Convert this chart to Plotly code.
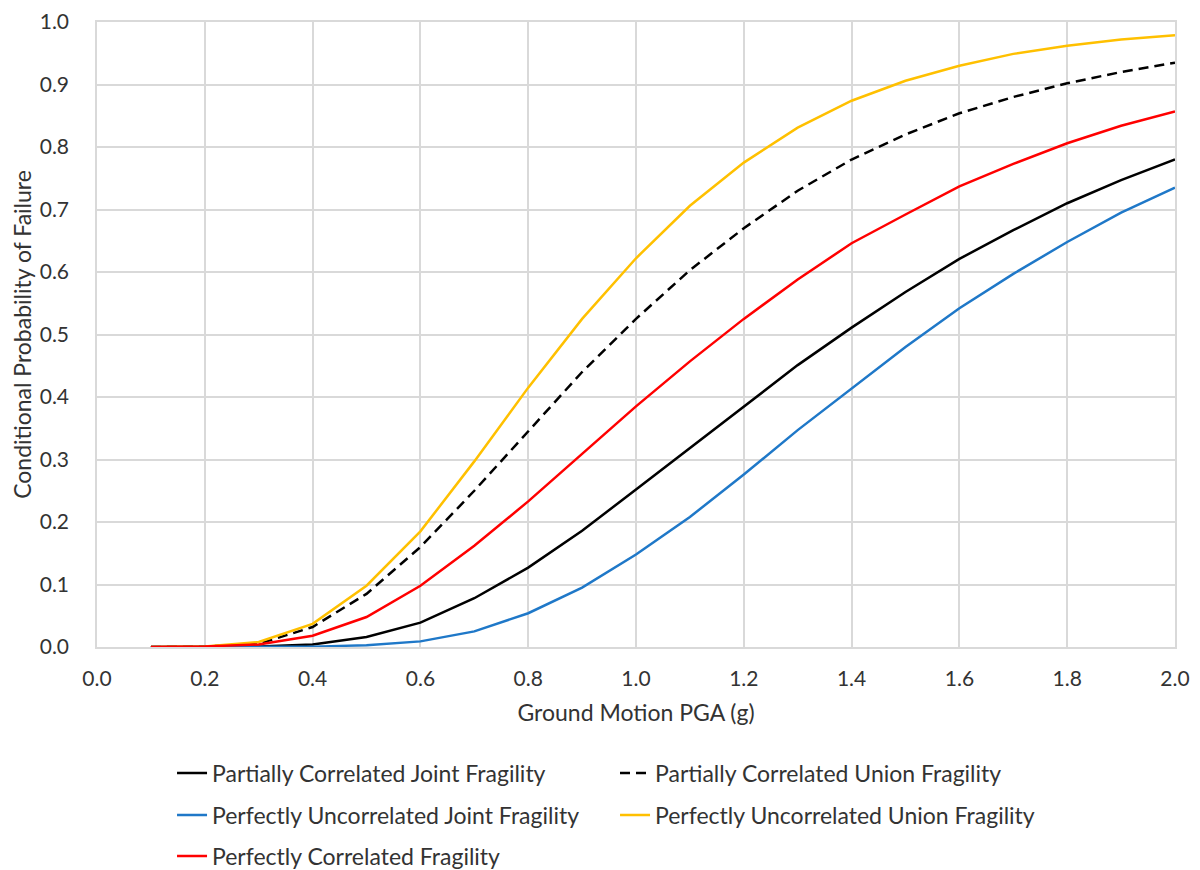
import plotly.graph_objects as go

pga = [0.1, 0.2, 0.3, 0.4, 0.5, 0.6, 0.7, 0.8, 0.9, 1.0,
       1.1, 1.2, 1.3, 1.4, 1.5, 1.6, 1.7, 1.8, 1.9, 2.0]

partial_joint = [0.0, 0.0, 0.001, 0.004, 0.016, 0.039, 0.078, 0.127, 0.186, 0.252,
                 0.318, 0.385, 0.451, 0.511, 0.568, 0.621, 0.667, 0.710, 0.747, 0.780]
partial_union = [0.0, 0.001, 0.005, 0.032, 0.085, 0.160, 0.250, 0.345, 0.440, 0.525,
                 0.603, 0.670, 0.730, 0.780, 0.820, 0.854, 0.880, 0.902, 0.920, 0.935]
uncorr_joint = [0.0, 0.0, 0.0, 0.0005, 0.003, 0.009, 0.025, 0.054, 0.095, 0.148,
                0.208, 0.276, 0.347, 0.414, 0.480, 0.542, 0.597, 0.648, 0.695, 0.735]
uncorr_union = [0.0, 0.001, 0.008, 0.037, 0.098, 0.185, 0.297, 0.415, 0.525, 0.622,
                0.706, 0.775, 0.831, 0.874, 0.906, 0.930, 0.949, 0.962, 0.972, 0.979]
perfect_corr = [0.0, 0.001, 0.004, 0.018, 0.048, 0.098, 0.162, 0.233, 0.309, 0.385,
                0.457, 0.525, 0.588, 0.646, 0.692, 0.737, 0.773, 0.806, 0.834, 0.857]

series = [
    ("Partially Correlated Joint Fragility", partial_joint, "#000000", "solid", "legend"),
    ("Partially Correlated Union Fragility", partial_union, "#000000", "10px,6px", "legend"),
    ("Perfectly Uncorrelated Joint Fragility", uncorr_joint, "#1F78C8", "solid", "legend2"),
    ("Perfectly Uncorrelated Union Fragility", uncorr_union, "#FFC000", "solid", "legend2"),
    ("Perfectly Correlated Fragility", perfect_corr, "#FF0000", "solid", "legend3"),
]

FONT = "Lato, 'Open Sans', sans-serif"
TXT = "#333333"

fig = go.Figure()
for name, vals, color, dash, lg in series:
    fig.add_trace(go.Scatter(x=pga, y=vals, mode="lines", name=name,
                             line=dict(color=color, width=2.5, dash=dash),
                             legend=lg))

leg_common = dict(orientation="h", xanchor="left", yanchor="middle",
                  x=0.0696, yref="container", entrywidth=398, entrywidthmode="pixels",
                  font=dict(family=FONT, size=23, color=TXT),
                  bgcolor="rgba(0,0,0,0)", traceorder="normal")

fig.update_layout(
    width=1200, height=870,
    margin=dict(l=89, r=33, t=14, b=231, autoexpand=False),
    paper_bgcolor="white", plot_bgcolor="white",
    font=dict(family=FONT, size=21, color=TXT),
    showlegend=True,
    legend=dict(leg_common, y=0.1207),
    legend2=dict(leg_common, y=0.0724),
    legend3=dict(leg_common, y=0.0253),
    xaxis=dict(range=[0, 2.0], dtick=0.2, tick0=0, tickformat=".1f",
               showgrid=True, gridcolor="#D9D9D9", gridwidth=1.5,
               showline=True, linecolor="#D9D9D9", linewidth=1.5, mirror=True,
               zeroline=False, ticks="", ticklabelstandoff=12,
               ticklabeloverflow="allow", automargin=False,
               tickfont=dict(family=FONT, size=21, color=TXT),
               title=dict(text="Ground Motion PGA (g)", standoff=16,
                          font=dict(family=FONT, size=23, color=TXT))),
    yaxis=dict(range=[0, 1.0], dtick=0.1, tick0=0, tickformat=".1f",
               showgrid=True, gridcolor="#D9D9D9", gridwidth=1.5,
               showline=True, linecolor="#D9D9D9", linewidth=1.5, mirror=True,
               zeroline=False, ticks="", ticklabelstandoff=22,
               ticklabeloverflow="allow", automargin=False,
               tickfont=dict(family=FONT, size=21, color=TXT),
               title=dict(text="Conditional Probability of Failure", standoff=6,
                          font=dict(family=FONT, size=23, color=TXT))),
)

fig.write_html("out.html")
